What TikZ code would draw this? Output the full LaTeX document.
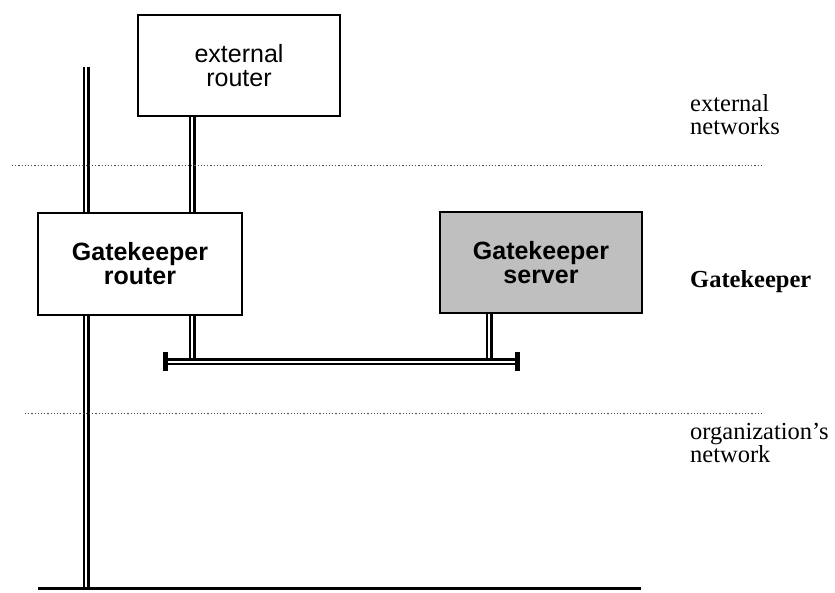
\documentclass[tikz,border=0pt]{standalone}
\usepackage{fontspec}
\setmainfont{Liberation Serif}
\setsansfont{Liberation Sans}
\usepackage{tikz}
\usetikzlibrary{positioning,calc}

\begin{document}
\begin{tikzpicture}[x=1pt,y=-1pt,
  box/.style={draw,line width=2pt,fill=white,minimum width=202pt,minimum height=101pt,inner sep=1pt,align=center,font=\sffamily\fontsize{25}{24}\selectfont},
  srvbox/.style={box,fill=black!25},
  net/.style={double,line width=2.2pt,double distance=2.6pt},
  endcap/.style={line width=5pt},
  sep/.style={line width=1pt,black!70,dash pattern=on 1.2pt off 2pt},
  lbl/.style={anchor=west,align=left,inner sep=0pt,font=\fontsize{24.5}{23}\selectfont}]
\useasboundingbox (0,0) rectangle (835,593);

% boxes
\node[box] (extrouter) at (239,65.5) {external\\router};
\node[box,minimum width=204pt,minimum height=102pt] (gkrouter) at (140,264) {\bfseries Gatekeeper\\\bfseries router};
\node[srvbox] (gkserver) at (541,263) {\bfseries Gatekeeper\\\bfseries server};

% fixed points of the wiring
\coordinate (bbtop) at (86,67);
\coordinate (bbbot) at (86,588);
\coordinate (lanl) at (38,588);
\coordinate (lanr) at (641,588);
\coordinate (busl) at (165,362);
\coordinate (busr) at (517,362);
\coordinate (extdrop) at (192,362);
\coordinate (srvdrop) at (489,362);

% backbone behind the router
\draw[net] (bbtop) -- (bbtop |- gkrouter.north);
\draw[net] (bbtop |- gkrouter.south) -- (bbbot);
\draw[line width=3pt] (lanl) -- (lanr);

% drops to the bus
\draw[net] (extrouter.south -| extdrop) -- (gkrouter.north -| extdrop);
\draw[net] (gkrouter.south -| extdrop) -- (extdrop);
\draw[net] (gkserver.south -| srvdrop) -- (srvdrop);
\draw[net] (busl) -- (busr);
\draw[endcap] ([yshift=10pt]busl) -- ([yshift=-9pt]busl);
\draw[endcap] ([yshift=10pt]busr) -- ([yshift=-9pt]busr);

% zone borders
\coordinate (sep1l) at (12,166);
\coordinate (sep1r) at (762,166);
\coordinate (sep2l) at (25,413);
\coordinate (sep2r) at (762,413);
\draw[sep] (sep1l) -- (sep1r);
\draw[sep] (sep2l) -- (sep2r);

% zone names
\node[lbl] (extnet) at (690,115) {external\\networks};
\node[lbl,font=\fontsize{24.5}{23}\selectfont\bfseries] (gkzone) at (690,282) {Gatekeeper};
\node[lbl] (orgnet) at (690,443) {organization’s\\network};
\end{tikzpicture}
\end{document}
